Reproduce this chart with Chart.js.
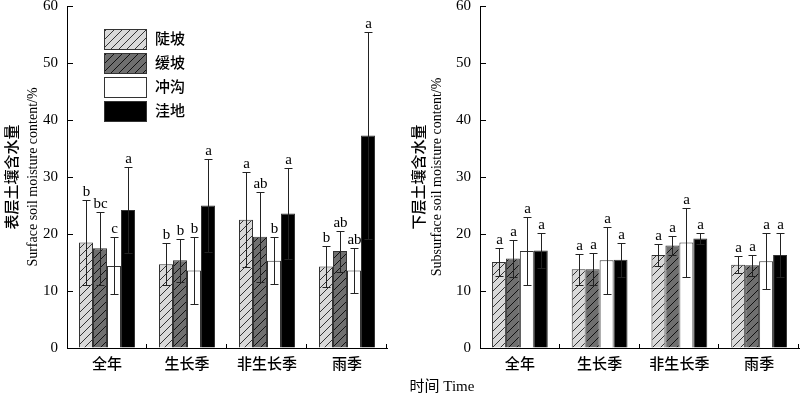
<!DOCTYPE html>
<html>
<head>
<meta charset="utf-8">
<script src="https://cdn.jsdelivr.net/npm/chart.js@4.4.0/dist/chart.umd.min.js"></script>
<style>
  body { margin: 0; background: #fff; }
  #wrap { position: relative; width: 800px; height: 394px; }
  canvas { position: absolute; top: 0; }
  #xtitle { position: absolute; left: 0; width: 884px; top: 374px; text-align: center;
    font: 15px 'Liberation Serif', 'Noto Sans CJK SC'; color: #000; }
</style>
</head>
<body>
<div id="wrap">
  <canvas id="surf" width="400" height="394" style="left:0"></canvas>
  <canvas id="sub" width="400" height="394" style="left:400px"></canvas>
  <div id="xtitle">时间 Time</div>
</div>
<script>
var categories = ['全年', '生长季', '非生长季', '雨季'];
var seriesNames = ['陡坡', '缓坡', '冲沟', '洼地'];
var yTicks = [0, 10, 20, 30, 40, 50, 60];

// surface layer
var surfSteep = [18.5, 14.7, 22.5, 14.3];
var surfGentle = [17.5, 15.4, 19.5, 17.0];
var surfGully = [14.4, 13.6, 15.3, 13.6];
var surfDepress = [24.2, 25.0, 23.6, 37.3];
var surfSteepErr = [7.5, 3.7, 8.3, 3.6];
var surfGentleErr = [6.4, 3.8, 7.9, 3.6];
var surfGullyErr = [5.0, 5.8, 4.1, 3.9];
var surfDepressErr = [7.6, 8.2, 7.9, 18.1];
var surfSteepSig = ['b', 'b', 'a', 'b'];
var surfGentleSig = ['bc', 'b', 'ab', 'ab'];
var surfGullySig = ['c', 'b', 'b', 'ab'];
var surfDepressSig = ['a', 'a', 'a', 'a'];

// subsurface layer
var subSteep = [15.1, 13.8, 16.3, 14.6];
var subGentle = [15.7, 13.8, 18.0, 14.5];
var subGully = [17.0, 15.4, 18.5, 15.2];
var subDepress = [17.1, 15.5, 19.2, 16.3];
var subSteepErr = [2.5, 2.7, 1.9, 1.5];
var subGentleErr = [3.2, 2.8, 1.7, 1.8];
var subGullyErr = [6.0, 5.9, 6.0, 4.9];
var subDepressErr = [3.0, 3.0, 1.0, 3.9];
var subSteepSig = ['a', 'a', 'a', 'a'];
var subGentleSig = ['a', 'a', 'a', 'a'];
var subGullySig = ['a', 'a', 'a', 'a'];
var subDepressSig = ['a', 'a', 'a', 'a'];

var serif = "'Liberation Serif', 'Noto Sans CJK SC'";

function hatch(bg, line) {
  var c = document.createElement('canvas');
  c.width = 8; c.height = 8;
  var g = c.getContext('2d');
  g.fillStyle = bg;
  g.fillRect(0, 0, 8, 8);
  g.strokeStyle = line;
  g.lineWidth = 1;
  g.beginPath();
  g.moveTo(0, 8); g.lineTo(8, 0);
  g.moveTo(-1, 1); g.lineTo(1, -1);
  g.moveTo(7, 9); g.lineTo(9, 7);
  g.stroke();
  return g.createPattern(c, 'repeat');
}

var fills = [hatch('#d9d9d9', '#333'), hatch('#6f6f6f', '#111'), '#ffffff', '#000000'];

function makeSets(vals, errs, sigs) {
  return vals.map(function (v, i) {
    return {
      label: seriesNames[i],
      data: v,
      errors: errs[i],
      sig: sigs[i],
      backgroundColor: fills[i],
      borderColor: '#333',
      borderWidth: 1,
      categoryPercentage: 0.7,
      barPercentage: 1.0
    };
  });
}

// error bars + significance letters
var errorPlugin = {
  id: 'errorBars',
  afterDatasetsDraw: function (chart) {
    var ctx = chart.ctx, y = chart.scales.y;
    ctx.save();
    ctx.strokeStyle = '#222';
    ctx.lineWidth = 1;
    chart.data.datasets.forEach(function (ds, i) {
      chart.getDatasetMeta(i).data.forEach(function (bar, j) {
        var v = ds.data[j], e = ds.errors[j];
        var yt = Math.round(y.getPixelForValue(v + e)) + 0.5;
        var yb = Math.round(y.getPixelForValue(v - e)) + 0.5;
        var x = Math.round(bar.x) + 0.5;
        ctx.beginPath();
        ctx.moveTo(x, yt); ctx.lineTo(x, yb);
        ctx.moveTo(x - 4, yt); ctx.lineTo(x + 4, yt);
        ctx.moveTo(x - 4, yb); ctx.lineTo(x + 4, yb);
        ctx.stroke();
        ctx.fillStyle = '#000';
        ctx.font = '15px ' + serif;
        ctx.textAlign = 'center';
        ctx.textBaseline = 'bottom';
        ctx.fillText(ds.sig[j], x, yt - 1);
      });
    });
    ctx.restore();
  }
};

// inward tick marks on both axes
var tickPlugin = {
  id: 'inTicks',
  afterDraw: function (chart) {
    var ctx = chart.ctx, a = chart.chartArea, y = chart.scales.y, n = categories.length;
    ctx.save();
    ctx.strokeStyle = '#000';
    ctx.lineWidth = 1;
    ctx.beginPath();
    y.ticks.forEach(function (t) {
      var py = Math.round(y.getPixelForValue(t.value)) + 0.5;
      ctx.moveTo(a.left, py); ctx.lineTo(a.left + 6, py);
    });
    for (var k = 1; k <= n; k++) {
      var px = Math.round(a.left + k * (a.right - a.left) / n) - 0.5;
      ctx.moveTo(px, a.bottom); ctx.lineTo(px, a.bottom - 4);
    }
    ctx.stroke();
    ctx.restore();
  }
};

// two-line rotated y title
function yTitlePlugin(cn, en, xcn, xen) {
  return {
    id: 'yTitle',
    afterDraw: function (chart) {
      var ctx = chart.ctx, a = chart.chartArea, my = (a.top + a.bottom) / 2;
      ctx.save();
      ctx.fillStyle = '#000';
      ctx.textAlign = 'center';
      ctx.textBaseline = 'middle';
      ctx.translate(xcn, my);
      ctx.rotate(-Math.PI / 2);
      ctx.font = '500 15px ' + serif;
      ctx.fillText(cn, 0, 0);
      ctx.restore();
      ctx.save();
      ctx.fillStyle = '#000';
      ctx.textAlign = 'center';
      ctx.textBaseline = 'middle';
      ctx.translate(xen, my);
      ctx.rotate(-Math.PI / 2);
      ctx.font = '14px ' + serif;
      ctx.fillText(en, 0, 0);
      ctx.restore();
    }
  };
}

// legend inside plot, top left
var legendPlugin = {
  id: 'boxLegend',
  afterDraw: function (chart) {
    var ctx = chart.ctx;
    ctx.save();
    chart.data.datasets.forEach(function (ds, i) {
      var top = 29 + i * 24;
      ctx.fillStyle = ds.backgroundColor;
      ctx.fillRect(104, top, 43, 21);
      ctx.strokeStyle = '#333';
      ctx.lineWidth = 1;
      ctx.strokeRect(104.5, top + 0.5, 42, 20);
      ctx.fillStyle = '#000';
      ctx.font = '500 15px ' + serif;
      ctx.textAlign = 'left';
      ctx.textBaseline = 'middle';
      ctx.fillText(ds.label, 155, top + 11);
    });
    ctx.restore();
  }
};

function makeChart(id, sets, yWidth, padRight, extra) {
  return new Chart(document.getElementById(id), {
    type: 'bar',
    data: { labels: categories, datasets: sets },
    options: {
      responsive: false,
      animation: false,
      devicePixelRatio: 1,
      layout: { padding: { left: 0, right: padRight, top: 6, bottom: 0 } },
      plugins: { legend: { display: false }, tooltip: { enabled: false } },
      scales: {
        x: {
          grid: { display: true, drawOnChartArea: false, drawTicks: false },
          border: { display: true, color: '#000', width: 1 },
          ticks: { color: '#000', padding: 8, font: { family: serif, size: 15, weight: '500' } },
          afterFit: function (s) {
            s.height = 46;
            s.paddingLeft = 0; s.paddingRight = 0;
          }
        },
        y: {
          min: 0, max: 60,
          afterBuildTicks: function (s) { s.ticks = yTicks.map(function (v) { return { value: v }; }); },
          grid: { display: true, drawOnChartArea: false, drawTicks: false },
          border: { display: true, color: '#000', width: 1 },
          ticks: { color: '#000', padding: 9, font: { family: serif, size: 15 } },
          afterFit: function (s) {
            s.width = yWidth;
            s.paddingTop = 0; s.paddingBottom = 0;
          }
        }
      }
    },
    plugins: [errorPlugin, tickPlugin].concat(extra)
  });
}

makeChart('surf',
  makeSets([surfSteep, surfGentle, surfGully, surfDepress],
           [surfSteepErr, surfGentleErr, surfGullyErr, surfDepressErr],
           [surfSteepSig, surfGentleSig, surfGullySig, surfDepressSig]),
  67, 13,
  [legendPlugin, yTitlePlugin('表层土壤含水量', 'Surface soil moisture content/%', 13, 33)]);

makeChart('sub',
  makeSets([subSteep, subGentle, subGully, subDepress],
           [subSteepErr, subGentleErr, subGullyErr, subDepressErr],
           [subSteepSig, subGentleSig, subGullySig, subDepressSig]),
  80, 1,
  [yTitlePlugin('下层土壤含水量', 'Subsurface soil moisture content/%', 20, 37)]);
</script>
</body>
</html>
